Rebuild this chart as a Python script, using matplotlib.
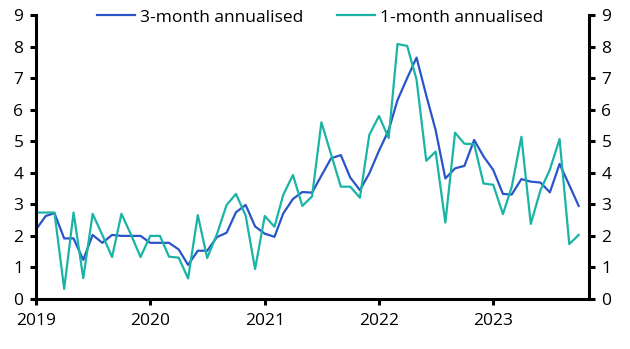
import matplotlib
matplotlib.use("Agg")
import matplotlib.pyplot as plt
import matplotlib.dates as mdates
import pandas as pd

months = pd.date_range("2019-01-01", periods=58, freq="MS")

three_month = [2.2, 2.63, 2.72, 1.92, 1.92, 1.24, 2.03, 1.78, 2.03, 2.0, 2.0, 2.0,
               1.78, 1.78, 1.78, 1.57, 1.08, 1.53, 1.53, 1.96, 2.1, 2.75, 2.98, 2.3,
               2.07, 1.97, 2.71, 3.17, 3.39, 3.37, 3.91, 4.46, 4.56, 3.85, 3.45, 3.98,
               4.7, 5.35, 6.3, 7.0, 7.65, 6.45, 5.35, 3.82, 4.14, 4.22, 5.04, 4.52,
               4.09, 3.33, 3.31, 3.80, 3.72, 3.69, 3.38, 4.28, 3.61, 2.95]

one_month = [2.74, 2.74, 2.74, 0.32, 2.74, 0.66, 2.70, 2.03, 1.33, 2.70, 2.03, 1.33,
             2.0, 2.0, 1.34, 1.31, 0.65, 2.66, 1.30, 2.05, 2.98, 3.33, 2.64, 0.95,
             2.63, 2.29, 3.30, 3.93, 2.95, 3.25, 5.6, 4.58, 3.56, 3.56, 3.21, 5.2,
             5.8, 5.1, 8.08, 8.02, 6.95, 4.38, 4.67, 2.42, 5.27, 4.92, 4.91, 3.66,
             3.62, 2.69, 3.55, 5.14, 2.38, 3.45, 4.1, 5.07, 1.74, 2.03]

labels = ["3-month annualised", "1-month annualised"]
colors = ["#2a55c8", "#1ab4a5"]
y_ticks = list(range(0, 10))

plt.rcParams['font.family'] = ['Open Sans', 'DejaVu Sans']

fig = plt.figure(figsize=(6.3, 3.49), dpi=100)
ax = fig.add_axes([36/630, 1-299/349, (589-36)/630, (299-15)/349])

ax.plot(months, three_month, color=colors[0], lw=1.6, label=labels[0])
ax.plot(months, one_month, color=colors[1], lw=1.6, label=labels[1])

ax.set_ylim(0, 9)
ax.set_yticks(y_ticks)
ax.set_xlim(pd.Timestamp("2019-01-01"), pd.Timestamp("2023-11-03"))
ax.xaxis.set_major_locator(mdates.YearLocator())
ax.xaxis.set_major_formatter(mdates.DateFormatter("%Y"))

for s in ["left", "right", "bottom"]:
    ax.spines[s].set_linewidth(2.2)
ax.spines["top"].set_visible(False)
ax.tick_params(axis="both", which="major", direction="out", length=4, width=2.2,
               labelsize=12.5, colors="black")
ax.tick_params(axis="y", right=True, labelright=True, pad=5)
ax.tick_params(axis="x", pad=6)

fig.legend(loc="center", bbox_to_anchor=(0.508, 0.95), ncol=2, frameon=False,
           fontsize=12.5, handlelength=2.2, handletextpad=0.3, columnspacing=1.9)

fig.savefig("out.png", dpi=100)
